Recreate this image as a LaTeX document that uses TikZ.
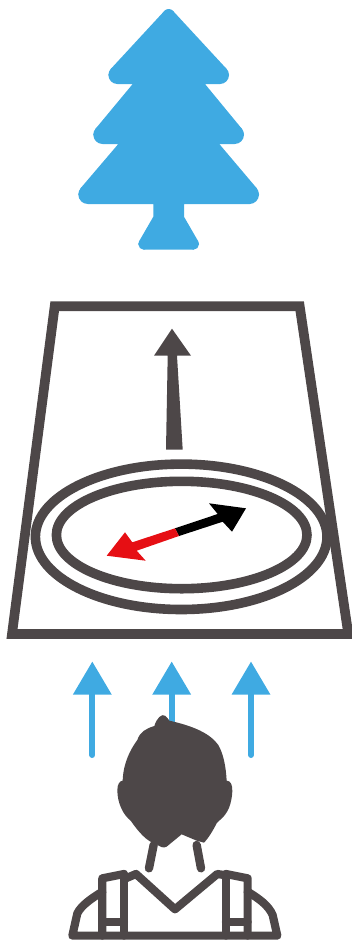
\documentclass[tikz,border=0pt]{standalone}
\definecolor{sky}{HTML}{3FAAE2}
\definecolor{ink}{HTML}{4D4748}
\definecolor{needle}{HTML}{E60F14}
\tikzset{
  frameline/.style={draw=ink,line width=9.7pt,miter limit=10},
  ring/.style={draw=ink,line width=9.6pt},
  person/.style={draw=ink,line width=8.2pt,line cap=round,line join=round},
  upshaft/.style={draw=sky,line width=6pt,line cap=round}
}
\begin{document}
\begin{tikzpicture}[x=1pt,y=-1pt]
\useasboundingbox (0,0) rectangle (352,940);
\clip (0,0) rectangle (352,940);
% tree
\fill[sky] (173,10.9) -- (226.5,68.8) -- (229,75) -- (220,84) -- (205,84) -- (241.8,128.7) -- (244,134.7) -- (234.7,144) -- (219.3,144) -- (256.7,188.2) -- (259,194.5) -- (249.5,204) -- (184,204) -- (184,216.7) -- (198.2,241.3) -- (199,244.2) -- (193.5,249.7) -- (143.8,249.7) -- (138.3,244.2) -- (139.1,241.3) -- (153.3,216.7) -- (153.3,204) -- (87.8,204) -- (78.3,194.5) -- (80.6,188.2) -- (118.3,144) -- (102.6,144) -- (93.3,134.7) -- (95.6,128.7) -- (132.7,84) -- (117.4,84) -- (108.4,75) -- (110.9,68.8) -- (164.4,10.9) -- cycle;
\fill[sky] (168.7,15) circle [radius=6pt];
\fill[sky] (220,75) circle [radius=9pt];
\fill[sky] (117.4,75) circle [radius=9pt];
\fill[sky] (234.7,134.7) circle [radius=9.3pt];
\fill[sky] (102.6,134.7) circle [radius=9.3pt];
\fill[sky] (249.5,194.5) circle [radius=9.5pt];
\fill[sky] (87.8,194.5) circle [radius=9.5pt];
\fill[sky] (193.5,244.2) circle [radius=5.5pt];
\fill[sky] (143.8,244.2) circle [radius=5.5pt];
% frame
\draw[frameline] (54.7,306.3) -- (299.7,306.3) -- (348.3,634) -- (12,634) -- cycle;
% big arrow
\fill[ink] (172,328.7) -- (191,355.7) -- (177,355.7) -- (182.7,449.7) -- (166,449.7) -- (167.7,355.7) -- (154,355.7) -- cycle;
% rings
\draw[ring] (181.2,536.8) ellipse [x radius=145.8pt,y radius=72.7pt];
\draw[ring] (181.7,535) ellipse [x radius=125.3pt,y radius=53.7pt];
% needle
\fill[black] (246,508.3) -- (209,503.3) -- (217.7,514) -- (175,528.3) -- (179,536) -- (222.7,521.7) -- (232,531.7) -- cycle;
\fill[needle] (106.7,555.7) -- (125,532.3) -- (132.3,542.3) -- (175,528.3) -- (179,536) -- (136.7,550.7) -- (145.7,560.7) -- cycle;
% blue arrows
\foreach \ax in {92.3,171.7,251}{
  \draw[upshaft] (\ax,690) -- (\ax,755);
  \fill[sky] (\ax,661.7) -- (\ax+19.5,694.7) -- (\ax-19.5,694.7) -- cycle;
}
% person
\begin{scope}[shift={(60,650)},x=0.3333pt,y=-0.3333pt]
\fill[ink] (283,228) .. controls (290,205) and (305,190) .. (315,197) .. controls (322,202) and (325,208) .. (328,212)
  .. controls (400,228) and (450,250) .. (475,285) .. controls (492,315) and (498,355) .. (500,392)
  .. controls (512,392) and (518,405) .. (517,425) .. controls (515,460) and (505,490) .. (480,510)
  -- (470,520) .. controls (460,540) and (445,565) .. (432,578) -- (410,572) -- (365,553)
  -- (320,590) .. controls (310,596) and (300,590) .. (290,583) .. controls (260,575) and (235,545) .. (212,512)
  .. controls (190,495) and (172,460) .. (172,420) .. controls (172,402) and (180,392) .. (188,392)
  .. controls (190,340) and (210,300) .. (232,270) .. controls (240,245) and (260,235) .. (283,228) -- cycle;
\draw[person,line width=8.4pt] (281,585) -- (267,655);
\draw[person,line width=8.4pt] (410,585) -- (423,655);
\draw[person] (200,684) -- (228,672) -- (345,778) -- (472,672) -- (498,676);
\draw[person] (192,672) -- (127,685) -- (127,857);
\draw[person] (192,672) -- (192,857);
\draw[person] (127,815) -- (192,815);
\draw[person] (498,672) -- (498,857);
\draw[person] (498,672) -- (563,685) -- (563,857);
\draw[person] (498,815) -- (563,815);
\draw[person] (127,725) .. controls (95,745) and (65,765) .. (52,790) -- (37,857) -- (652,857) -- (638,795) .. controls (625,765) and (595,745) .. (563,725);
\end{scope}
\end{tikzpicture}
\end{document}
